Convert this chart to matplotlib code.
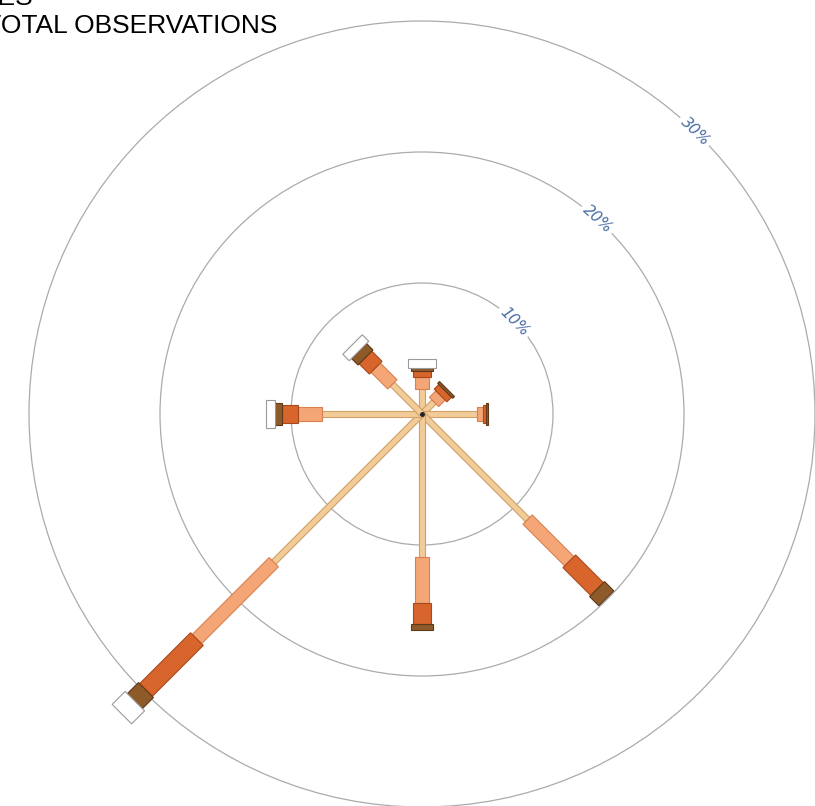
import numpy as np
import matplotlib
matplotlib.use('Agg')
import matplotlib.pyplot as plt
from matplotlib.patches import Polygon, Circle

# wind directions (clockwise from north) and % of observations per speed class
directions = ['N', 'NE', 'E', 'SE', 'S', 'SW', 'W', 'NW']
angles_deg = [0, 45, 90, 135, 180, 225, 270, 315]

speed_1 = [1.9, 1.3, 4.2, 11.4, 10.9, 16.0, 7.6, 3.2]
speed_2 = [0.9, 0.7, 0.45, 4.5, 3.5, 8.3, 1.9, 1.8]
speed_3 = [0.5, 0.5, 0.25, 3.0, 1.6, 5.5, 1.2, 1.1]
speed_4 = [0.2, 0.2, 0.1, 1.0, 0.5, 1.2, 0.5, 0.7]
speed_5 = [0.7, 0.0, 0.0, 0.0, 0.0, 1.4, 0.7, 0.7]

rings = [10, 20, 30]
ring_labels = ['10%', '20%', '30%']

classes = [speed_1, speed_2, speed_3, speed_4, speed_5]
# (fill, edge, width in % units)
styles = [
    ('#f2cc98', '#d0a068', 0.46),
    ('#f4a676', '#d98050', 1.0),
    ('#d7652c', '#a9481c', 1.37),
    ('#8f5a2a', '#5e3a18', 1.62),
    ('#ffffff', '#9a9a9a', 2.1),
]

W, H = 815, 806
fig = plt.figure(figsize=(W / 100, H / 100), dpi=100)
ax = fig.add_axes([0, 0, 1, 1])
px = 10 / 131.0            # % per pixel
cx, cy = 422, 414          # centre in px from top-left
ax.set_xlim(-cx * px, (W - cx) * px)
ax.set_ylim(-(H - cy) * px, cy * px)
ax.set_aspect('equal')
ax.axis('off')

# range rings
for r in rings:
    ax.add_patch(Circle((0, 0), r, fill=False, ec='#ababab', lw=0.9, zorder=1))

label_angles = [45, 42, 44]
for r, lab, a in zip(rings, ring_labels, label_angles):
    t = np.deg2rad(a)
    ax.text(r * np.sin(t), r * np.cos(t), lab, color='#4a6da6', fontsize=11, style='italic',
            rotation=-a, ha='center', va='center', rotation_mode='anchor', zorder=2,
            bbox=dict(boxstyle='square,pad=0.2', fc='white', ec='none'))

# stacked arms
for i, ang in enumerate(angles_deg):
    t = np.deg2rad(ang)
    d = np.array([np.sin(t), np.cos(t)])
    n = np.array([np.cos(t), -np.sin(t)])
    base = 0.0
    for vals, (fc, ec, w) in zip(classes, styles):
        v = vals[i]
        if v <= 0:
            continue
        p0 = d * base
        p1 = d * (base + v)
        h = n * w / 2
        pts = [p0 + h, p1 + h, p1 - h, p0 - h]
        ax.add_patch(Polygon(pts, closed=True, fc=fc, ec=ec, lw=0.8, zorder=3))
        base += v

ax.plot([0], [0], 'o', color='#222222', ms=2.5, zorder=5)

# title (partly cut off at the figure edge, as in the original)
fig.text(33 / W, 1 - 5 / H, 'WIND FREQUENCIES', ha='right', va='baseline',
         fontsize=19, family='Liberation Sans')
fig.text(277 / W, 1 - 33 / H, '% OF TOTAL OBSERVATIONS', ha='right', va='baseline',
         fontsize=19, family='Liberation Sans')

fig.savefig('out.png', dpi=100)
